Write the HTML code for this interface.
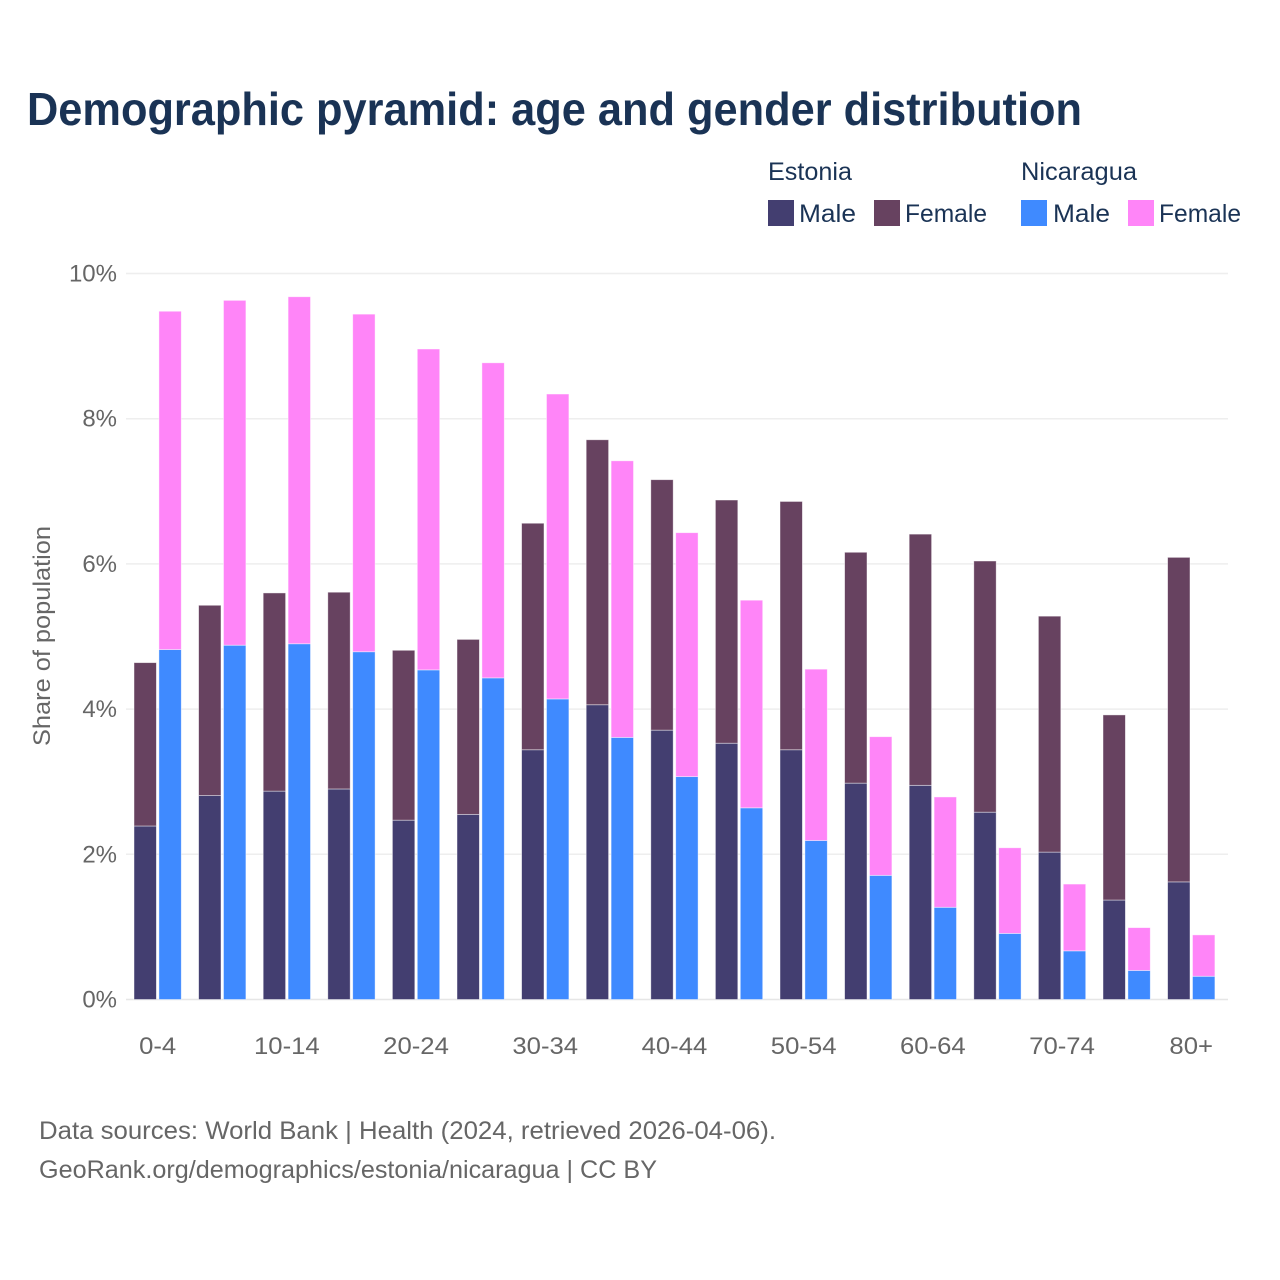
<!DOCTYPE html>
<html lang="en">
<head>
<meta charset="utf-8">
<title>Demographic pyramid: age and gender distribution</title>
<style>
  html, body { margin: 0; padding: 0; background: #ffffff; }
  svg { display: block; }
  text { font-family: "Liberation Sans", sans-serif; }
</style>
</head>
<body>
<svg id="chart" xmlns="http://www.w3.org/2000/svg" width="1280" height="1280" viewBox="0 0 1280 1280">
  <rect x="0" y="0" width="1280" height="1280" fill="#ffffff"/>
  <text x="27" y="125" font-size="46" font-weight="700" fill="#1a3355" textLength="1055" lengthAdjust="spacingAndGlyphs">Demographic pyramid: age and gender distribution</text>

  <g font-size="25" fill="#1a3355">
    <text x="768" y="180" textLength="84" lengthAdjust="spacingAndGlyphs">Estonia</text>
    <text x="1021" y="180" textLength="116" lengthAdjust="spacingAndGlyphs">Nicaragua</text>
    <rect x="768" y="200" width="26" height="26" fill="#433e70"/>
    <text x="799" y="222" textLength="57" lengthAdjust="spacingAndGlyphs">Male</text>
    <rect x="874" y="200" width="26" height="26" fill="#674260"/>
    <text x="905" y="222" textLength="82" lengthAdjust="spacingAndGlyphs">Female</text>
    <rect x="1021" y="200" width="26" height="26" fill="#3f8aff"/>
    <text x="1053" y="222" textLength="57" lengthAdjust="spacingAndGlyphs">Male</text>
    <rect x="1128" y="200" width="26" height="26" fill="#ff85f8"/>
    <text x="1159" y="222" textLength="82" lengthAdjust="spacingAndGlyphs">Female</text>
  </g>

  <g id="grid"></g>
  <g id="bars"></g>
  <g id="y-axis"></g>
  <g id="x-axis"></g>

  <text transform="translate(50 636) rotate(-90)" text-anchor="middle" font-size="24" fill="#666666" textLength="220" lengthAdjust="spacingAndGlyphs">Share of population</text>

  <text x="39" y="1139" font-size="25" fill="#666666" textLength="737" lengthAdjust="spacingAndGlyphs">Data sources: World Bank | Health (2024, retrieved 2026-04-06).</text>
  <text x="39" y="1178" font-size="25" fill="#666666" textLength="618" lengthAdjust="spacingAndGlyphs">GeoRank.org/demographics/estonia/nicaragua | CC BY</text>
</svg>

<script>
const ageGroups = ['0-4','5-9','10-14','15-19','20-24','25-29','30-34','35-39','40-44','45-49','50-54','55-59','60-64','65-69','70-74','75-79','80+'];
const estoniaMale = [2.39,2.81,2.87,2.90,2.47,2.55,3.44,4.06,3.71,3.53,3.44,2.98,2.95,2.58,2.03,1.37,1.62];
const estoniaFemale = [2.25,2.62,2.73,2.71,2.34,2.41,3.12,3.65,3.45,3.35,3.42,3.18,3.46,3.46,3.25,2.55,4.47];
const nicaraguaMale = [4.82,4.88,4.90,4.79,4.54,4.43,4.14,3.61,3.07,2.64,2.19,1.71,1.27,0.91,0.67,0.40,0.32];
const nicaraguaFemale = [4.66,4.75,4.78,4.65,4.42,4.34,4.20,3.81,3.36,2.86,2.36,1.91,1.52,1.18,0.92,0.59,0.57];
const yTickValues = [0,2,4,6,8,10];

const NS = 'http://www.w3.org/2000/svg';
const plotLeft = 126, plotRight = 1228;
const zeroY = 999.5, pxPerUnit = 72.6;
const firstBarX = 134, groupStep = 64.6, barWidth = 22.4, seriesOffset = 24.9;
const colors = { estoniaMale: '#433e70', estoniaFemale: '#674260', nicaraguaMale: '#3f8aff', nicaraguaFemale: '#ff85f8' };

function yScale(v) { return zeroY - v * pxPerUnit; }
function xScale(i, seriesIndex) { return firstBarX + i * groupStep + seriesIndex * seriesOffset; }

function make(tag, attrs, parent) {
  const el = document.createElementNS(NS, tag);
  Object.keys(attrs).forEach(function (k) { el.setAttribute(k, attrs[k]); });
  parent.appendChild(el);
  return el;
}

const gridG = document.getElementById('grid');
const barsG = document.getElementById('bars');
const yAxisG = document.getElementById('y-axis');
const xAxisG = document.getElementById('x-axis');

yTickValues.forEach(function (v) {
  const line = make('line', { x1: plotLeft, x2: plotRight, y1: yScale(v), y2: yScale(v), stroke: v === 0 ? '#e6e6e6' : '#eeeeee', 'stroke-width': 1.5 }, gridG);
  
  

  const label = make('text', { x: 117, y: yScale(v) + 8, 'text-anchor': 'end', 'font-size': 24, fill: '#666666' }, yAxisG);
  label.textContent = v + '%';
  
  
});

function drawBar(i, seriesIndex, start, value, color, name) {
  const top = yScale(start + value);
  const bottom = yScale(start);
  const rect = make('rect', {
    x: xScale(i, seriesIndex), y: top, width: barWidth, height: bottom - top,
    fill: color, stroke: '#ffffff', 'stroke-opacity': 0.55, 'stroke-width': 0.8
  }, barsG);
  
  
}

ageGroups.forEach(function (group, i) {
  drawBar(i, 0, 0, estoniaMale[i], colors.estoniaMale, 'bar-estonia-male-' + group);
  drawBar(i, 0, estoniaMale[i], estoniaFemale[i], colors.estoniaFemale, 'bar-estonia-female-' + group);
  drawBar(i, 1, 0, nicaraguaMale[i], colors.nicaraguaMale, 'bar-nicaragua-male-' + group);
  drawBar(i, 1, nicaraguaMale[i], nicaraguaFemale[i], colors.nicaraguaFemale, 'bar-nicaragua-female-' + group);

  if (i % 2 === 0) {
    const center = (xScale(i, 0) + xScale(i, 1) + barWidth) / 2;
    const label = make('text', { x: center, y: 1054, 'text-anchor': 'middle', 'font-size': 24, fill: '#666666' }, xAxisG);
    label.textContent = group;
    
    
    label.setAttribute('textLength', (label.getComputedTextLength() * 1.07).toFixed(1));
    label.setAttribute('lengthAdjust', 'spacingAndGlyphs');
  }
});
</script>
</body>
</html>
